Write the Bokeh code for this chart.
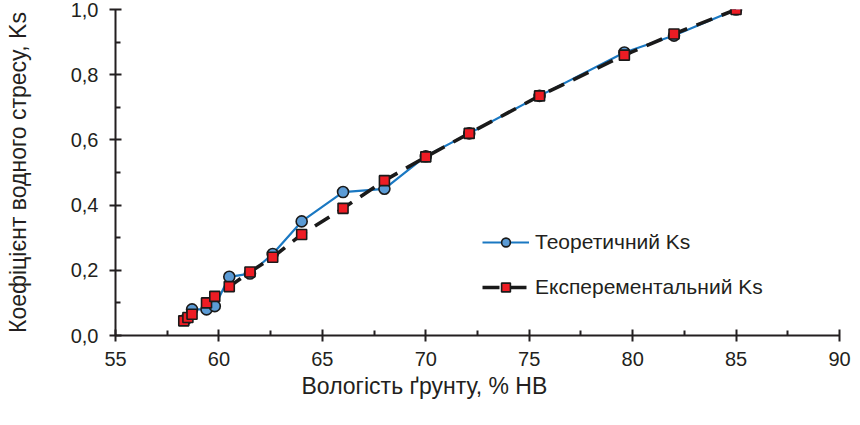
from bokeh.plotting import figure
from bokeh.models import (FixedTicker, CustomJSTickFormatter, Legend, LegendItem, Range1d, Title)
from bokeh.embed import file_html
from bokeh.resources import INLINE

# Data
x_theor = [58.4, 58.7, 59.4, 59.8, 60.5, 61.5, 62.6, 64.0, 66.0, 68.0, 70.0, 72.1, 75.5, 79.6, 82.0, 85.0]
ks_theor = [0.05, 0.08, 0.08, 0.09, 0.18, 0.19, 0.25, 0.35, 0.44, 0.45, 0.55, 0.62, 0.735, 0.868, 0.92, 1.0]

x_exp = [58.3, 58.5, 58.7, 59.4, 59.8, 60.5, 61.5, 62.6, 64.0, 66.0, 68.0, 70.0, 72.1, 75.5, 79.6, 82.0, 85.0]
ks_exp = [0.045, 0.055, 0.065, 0.10, 0.12, 0.15, 0.195, 0.24, 0.31, 0.39, 0.475, 0.548, 0.62, 0.735, 0.86, 0.925, 1.0]

x_ticks = [55, 60, 65, 70, 75, 80, 85, 90]
x_minor = [57.5, 62.5, 67.5, 72.5, 77.5, 82.5, 87.5]
y_ticks = [0.0, 0.2, 0.4, 0.6, 0.8, 1.0]
y_minor = [0.1, 0.3, 0.5, 0.7, 0.9]

label_theor = "Теоретичний Ks"
label_exp = "Експерементальний Ks"
x_title = "Вологість ґрунту, % НВ"
y_title = "Коефіцієнт водного стресу, Ks"

FONT = "Liberation Sans"
TXT = "#231f20"

p = figure(width=852, height=409, output_backend="svg", toolbar_location=None,
           x_range=Range1d(55, 90), y_range=Range1d(0, 1.0),
           min_border_left=115, min_border_right=13, min_border_top=9, min_border_bottom=74)
p.outline_line_color = None
p.xgrid.visible = False
p.ygrid.visible = False
p.background_fill_color = "white"
p.border_fill_color = "white"

l1 = p.line(x_theor, ks_theor, line_color="#1a78c2", line_width=2.2)
s1 = p.scatter(x_theor, ks_theor, marker="circle", size=11, fill_color="#5b9bd5",
               line_color="#1a1a1a", line_width=1.6)
l2 = p.line(x_exp, ks_exp, line_color="#1a1a1a", line_width=3.6, line_dash="17 10")
s2 = p.scatter(x_exp, ks_exp, marker="square", size=10, fill_color="#ee1c24",
               line_color="#1a1a1a", line_width=1.6)

fmt = CustomJSTickFormatter(code="return tick.toFixed(1).replace('.', ',');")

for ax in (p.xaxis[0], p.yaxis[0]):
    ax.axis_line_color = TXT
    ax.axis_line_width = 2
    ax.major_tick_line_color = TXT
    ax.major_tick_line_width = 2
    ax.minor_tick_line_color = TXT
    ax.minor_tick_line_width = 2
    ax.major_tick_in = 6
    ax.major_tick_out = 6
    ax.minor_tick_in = 5
    ax.minor_tick_out = 0
    ax.major_label_text_font = FONT
    ax.major_label_text_font_size = "20px"
    ax.major_label_text_color = TXT
    ax.axis_label_text_font = FONT
    ax.axis_label_text_font_size = "23px"
    ax.axis_label_text_font_style = "normal"
    ax.axis_label_text_color = TXT

p.xaxis[0].ticker = FixedTicker(ticks=x_ticks, minor_ticks=x_minor)
p.yaxis[0].ticker = FixedTicker(ticks=y_ticks, minor_ticks=y_minor)
p.yaxis[0].formatter = fmt
p.xaxis[0].major_label_standoff = 10
p.yaxis[0].major_label_standoff = 11
p.yaxis[0].axis_label = y_title
p.yaxis[0].axis_label_standoff = 37

# x-axis title, placed left of the frame centre as in the original
xt = Title(text=x_title, align="left", offset=186, standoff=4,
           text_font=FONT, text_font_size="23px", text_font_style="normal", text_color=TXT)
p.add_layout(xt, "below")

legend = Legend(items=[LegendItem(label=label_theor, renderers=[l1, s1]),
                       LegendItem(label=label_exp, renderers=[l2, s2])],
                location=(367, 36), glyph_width=47, glyph_height=22, spacing=21,
                padding=0, margin=0, label_standoff=6,
                border_line_color=None, background_fill_alpha=0,
                label_text_font=FONT, label_text_font_size="21px", label_text_color=TXT)
p.add_layout(legend)

open("out.html", "w").write(file_html(p, INLINE))
